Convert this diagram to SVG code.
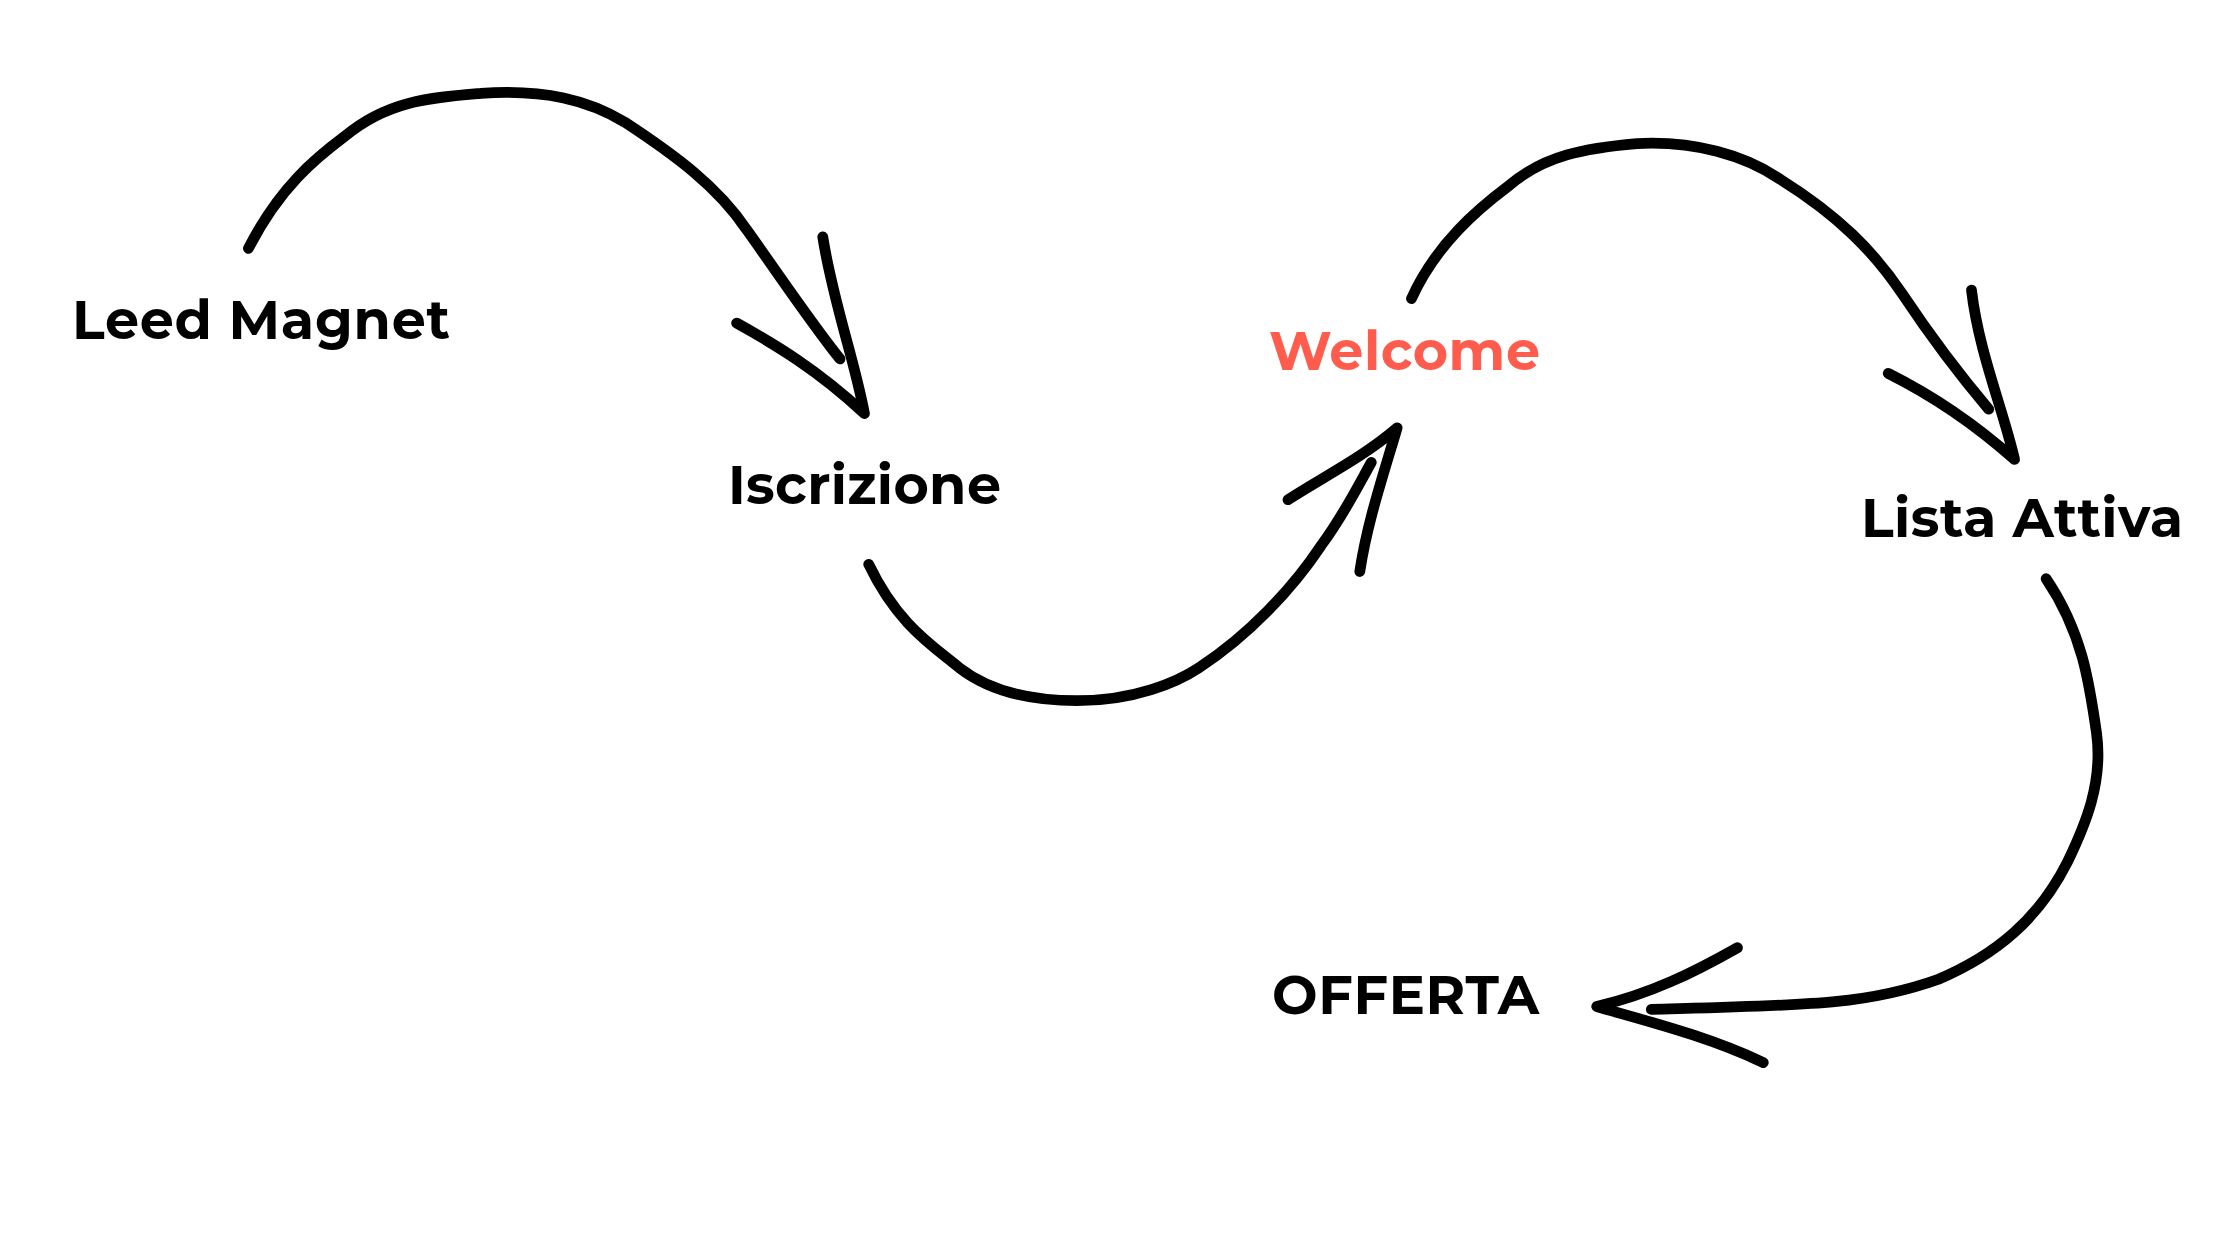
<svg xmlns="http://www.w3.org/2000/svg" width="2240" height="1260" viewBox="0 0 2240 1260">
<style>
.lbl{font-family:Montserrat,"Open Sans","Liberation Sans",sans-serif;font-weight:700;font-size:54px;fill:#000}
.arr{fill:none;stroke:#000;stroke-width:7.5;stroke-linecap:round;stroke-linejoin:round}
</style>
<rect width="2240" height="1260" fill="#fff"/>
<g id="connectors" transform="scale(1.4359)">
<path class="arr" d="M173,173 C195,130 220,110 240,95 C270,70 300,68 335,65 C380,62 410,70 435,85 C470,108 500,130 520,160 C545,195 565,225 585,250"/>
<path class="arr" d="M513,225 C540,240 570,258 602,288 C595,250 580,210 573,165"/>
<path class="arr" d="M605,393 C625,435 650,450 668,465 C690,482 720,488 750,488 C790,488 820,475 835,465 C870,442 900,410 920,380 C935,360 945,340 955,322"/>
<path class="arr" d="M897,348 C920,333 950,318 973,298 C962,335 952,365 947,398"/>
<path class="arr" d="M983,208 C1000,170 1030,145 1050,130 C1075,108 1105,103 1140,100 C1180,98 1215,108 1240,125 C1280,150 1305,175 1325,205 C1345,235 1368,265 1385,285"/>
<path class="arr" d="M1315,260 C1345,275 1375,295 1403,320 C1395,285 1378,245 1373,202"/>
<path class="arr" d="M1425,403 C1450,440 1455,475 1460,510 C1465,545 1452,575 1440,600 C1420,640 1390,665 1350,682 C1300,700 1260,700 1150,703"/>
<path class="arr" d="M1210,660 C1180,677 1150,692 1112,701 C1150,712 1190,722 1228,740"/>
</g>
<g id="leed-magnet"><text class="lbl" x="72" y="339" textLength="378" lengthAdjust="spacing">Leed Magnet</text></g>
<g id="iscrizione"><text class="lbl" x="728" y="504" textLength="273" lengthAdjust="spacing">Iscrizione</text></g>
<g id="welcome"><text class="lbl" x="1269" y="370" textLength="271" lengthAdjust="spacing" style="fill:#ff5c4d">Welcome</text></g>
<g id="lista-attiva"><text class="lbl" x="1861" y="537" textLength="322" lengthAdjust="spacing">Lista Attiva</text></g>
<g id="offerta"><text class="lbl" x="1272" y="1014" textLength="267" lengthAdjust="spacing">OFFERTA</text></g>
</svg>
